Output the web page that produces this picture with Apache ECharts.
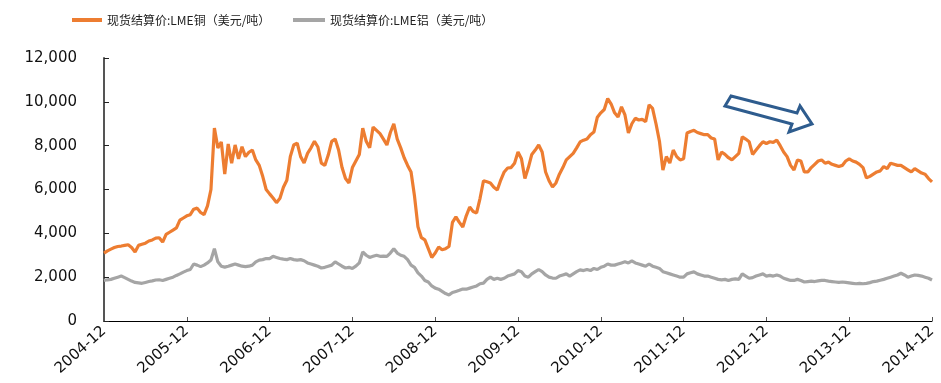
<!DOCTYPE html>
<html>
<head>
<meta charset="utf-8">
<script src="https://cdn.jsdelivr.net/npm/echarts@6/dist/echarts.min.js"></script>
<style>
html,body{margin:0;padding:0;background:#fff;}
#chart{width:941px;height:383px;}
</style>
</head>
<body>
<div id="chart"></div>
<script>
// Semi-monthly sample points from 2004-12 to 2014-12 (241 points)
const categories = [];
for (let k = 0; k <= 240; k++) {
  const mIdx = 11 + Math.floor(k / 2); // months since 2004-01
  const y = 2004 + Math.floor(mIdx / 12);
  const m = (mIdx % 12) + 1;
  categories.push(y + '-' + String(m).padStart(2, '0') + '-' + (k % 2 ? '16' : '01'));
}

const copperName = '现货结算价:LME铜（美元/吨）';
const aluminumName = '现货结算价:LME铝（美元/吨）';

const copper = [
3100,3200,3280,3350,3400,3420,3450,3480,3350,3150,
3450,3500,3550,3650,3700,3780,3800,3600,3950,4050,
4150,4250,4600,4700,4800,4850,5100,5150,4950,4850,
5250,6000,8800,7900,8170,6700,8080,7200,8030,7400,
7950,7500,7700,7800,7350,7100,6600,6000,5800,5610,
5400,5600,6100,6420,7500,8030,8120,7500,7210,7650,
7900,8200,7940,7200,7100,7570,8200,8300,7800,7000,
6500,6300,7000,7300,7600,8800,8200,7900,8850,8700,
8550,8300,8030,8600,9000,8300,7900,7450,7100,6800,
5700,4300,3800,3700,3300,2900,3100,3380,3250,3300,
3400,4500,4750,4500,4290,4800,5200,5000,4930,5600,
6400,6350,6300,6100,5980,6430,6800,6980,7000,7200,
7710,7400,6500,7000,7600,7800,8030,7710,6800,6400,
6110,6300,6700,7000,7350,7500,7650,7900,8170,8250,
8300,8500,8620,9300,9500,9650,10150,9900,9500,9310,
9770,9400,8580,9000,9250,9170,9200,9100,9860,9700,
9000,8200,6890,7500,7210,7800,7500,7350,7400,8580,
8650,8700,8600,8550,8500,8500,8350,8300,7350,7710,
7600,7450,7350,7500,7650,8400,8300,8180,7600,7800,
8000,8180,8100,8180,8150,8250,8000,7710,7500,7100,
6890,7350,7300,6800,6800,7000,7150,7300,7350,7200,
7250,7150,7100,7050,7100,7300,7400,7300,7250,7150,
7000,6530,6600,6700,6800,6850,7050,6950,7200,7150,
7100,7100,7000,6900,6800,6950,6850,6750,6700,6500,
6350
];

const aluminum = [
1850,1880,1900,1950,2000,2050,1980,1900,1820,1760,
1740,1720,1760,1800,1830,1870,1880,1850,1900,1950,
2000,2080,2150,2230,2300,2350,2600,2550,2480,2550,
2650,2780,3300,2700,2500,2460,2500,2550,2600,2550,
2500,2480,2500,2550,2700,2780,2800,2850,2850,2950,
2900,2850,2820,2800,2850,2800,2780,2800,2750,2650,
2600,2550,2500,2420,2450,2500,2550,2700,2600,2500,
2420,2450,2400,2500,2650,3150,3000,2900,2950,3000,
2950,2960,2950,3100,3300,3100,3000,2950,2800,2550,
2450,2200,2050,1850,1780,1600,1500,1450,1350,1250,
1190,1300,1350,1400,1460,1450,1500,1550,1600,1700,
1730,1900,2000,1900,1950,1900,1950,2050,2100,2150,
2300,2250,2050,2000,2150,2250,2350,2250,2100,2000,
1960,1950,2050,2100,2150,2050,2150,2250,2330,2300,
2350,2300,2400,2350,2450,2500,2600,2550,2550,2600,
2650,2700,2650,2740,2650,2600,2550,2500,2600,2500,
2450,2400,2250,2200,2150,2100,2050,2000,2000,2150,
2200,2240,2150,2100,2050,2050,2000,1950,1900,1880,
1900,1850,1900,1920,1900,2150,2050,1950,1980,2050,
2100,2150,2050,2080,2050,2100,2050,1950,1900,1850,
1850,1900,1850,1780,1800,1820,1800,1830,1850,1850,
1820,1800,1780,1760,1780,1760,1740,1720,1700,1720,
1700,1720,1750,1800,1820,1860,1900,1950,2000,2050,
2100,2180,2100,2000,2050,2100,2080,2050,2000,1950,
1870
];

const yTicks = { min: 0, max: 12000, interval: 2000 };
const labelEvery = 24;

const chart = echarts.init(document.getElementById('chart'), null, { renderer: 'canvas' });
const legendText = { fontSize: 12, color: '#222', fontFamily: '"Noto Sans CJK SC", sans-serif' };
chart.setOption({
  animation: false,
  backgroundColor: '#fff',
  legend: [
    { data: [copperName], left: 72, top: 14, icon: 'rect', itemWidth: 30, itemHeight: 4, itemGap: 0, textStyle: legendText, padding: 0 },
    { data: [aluminumName], left: 293, top: 14, icon: 'rect', itemWidth: 32, itemHeight: 4, itemGap: 0, textStyle: legendText, padding: 0 }
  ],
  grid: { left: 104, right: 9, top: 58, bottom: 62, containLabel: false },
  xAxis: {
    type: 'category',
    data: categories,
    boundaryGap: false,
    axisLine: { lineStyle: { color: '#000', width: 1 } },
    axisTick: { inside: true, length: 4, interval: (i) => i % labelEvery === 0, lineStyle: { color: '#555' } },
    axisLabel: {
      interval: (i) => i % labelEvery === 0,
      rotate: 42, margin: 8,
      formatter: (v) => v.slice(0, 7),
      fontSize: 15, color: '#111', fontFamily: '"DejaVu Sans", sans-serif'
    },
    splitLine: { show: false }
  },
  yAxis: {
    type: 'value',
    min: yTicks.min, max: yTicks.max, interval: yTicks.interval,
    axisLine: { show: true, lineStyle: { color: '#555', width: 2 } },
    axisTick: { show: true, inside: true, length: 5, lineStyle: { color: '#222' } },
    axisLabel: {
      margin: 27,
      formatter: (v) => v.toLocaleString('en-US'),
      fontSize: 15, color: '#111', fontFamily: '"DejaVu Sans", sans-serif'
    },
    splitLine: { show: false }
  },
  series: [
    { name: copperName, type: 'line', data: copper, showSymbol: false, symbol: 'none',
      lineStyle: { color: '#ED7D31', width: 3.2 }, itemStyle: { color: '#ED7D31' } },
    { name: aluminumName, type: 'line', data: aluminum, showSymbol: false, symbol: 'none',
      lineStyle: { color: '#A5A5A5', width: 3.2 }, itemStyle: { color: '#A5A5A5' } }
  ],
  graphic: [
    { type: 'polygon', z: 100,
      shape: { points: [[731,96],[797,113],[800,106],[812,124],[789,132],[792,124],[725,106]] },
      style: { fill: '#fff', stroke: '#2E5C8E', lineWidth: 3 } }
  ]
});
</script>
</body>
</html>
